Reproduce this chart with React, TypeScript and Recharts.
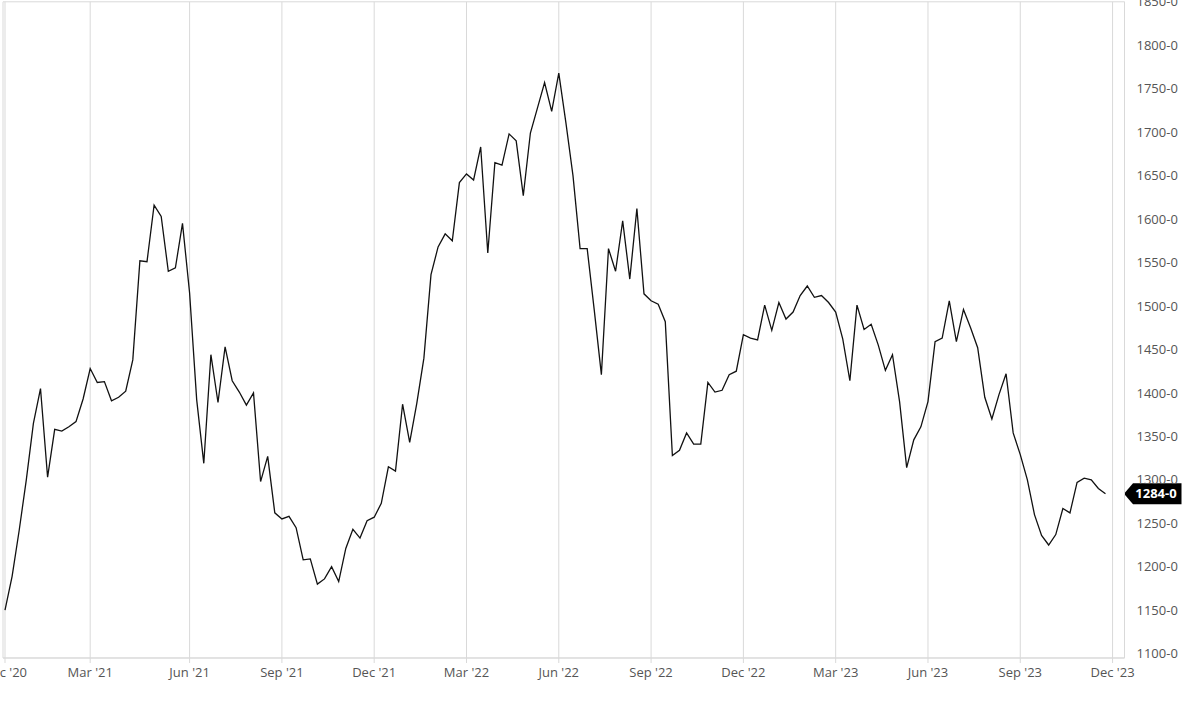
import { LineChart, Line, XAxis, YAxis, CartesianGrid, ReferenceLine } from 'recharts';

// weekly closes, Dec '20 .. Nov '23
const prices = [
  1150, 1189, 1242, 1300, 1365, 1405, 1303, 1358, 1356, 1361, 1367, 1393, 1428, 1412, 1413, 1391,
  1395, 1402, 1438, 1552, 1551, 1616, 1603, 1540, 1544, 1595, 1515, 1392, 1319, 1444, 1389, 1453,
  1414, 1401, 1386, 1400, 1298, 1327, 1262, 1255, 1258, 1245, 1208, 1209, 1180, 1186, 1200, 1183,
  1221, 1243, 1233, 1253, 1257, 1273, 1315, 1310, 1387, 1343, 1388, 1440, 1536, 1568, 1583, 1575,
  1642, 1652, 1645, 1683, 1561, 1665, 1662, 1698, 1690, 1627, 1699, 1728, 1757, 1724, 1768, 1711,
  1650, 1566, 1566, 1495, 1421, 1566, 1540, 1598, 1531, 1612, 1514, 1506, 1502, 1482, 1328, 1334,
  1354, 1341, 1341, 1412, 1401, 1403, 1421, 1425, 1467, 1463, 1461, 1501, 1472, 1504, 1485, 1493,
  1512, 1523, 1510, 1512, 1504, 1493, 1462, 1414, 1501, 1473, 1479, 1455, 1426, 1444, 1390, 1314,
  1346, 1361, 1390, 1459, 1463, 1506, 1459, 1496, 1475, 1452, 1395, 1370, 1398, 1422, 1354, 1329,
  1300, 1260, 1236, 1225, 1237, 1267, 1262, 1297, 1302, 1300, 1290, 1284,
];

// week index where each month label sits
const tickWeeks = [0, 12, 26, 39, 52, 65, 78, 91, 104, 117, 130, 143, 156];
const tickLabels = [
  "Dec '20", "Mar '21", "Jun '21", "Sep '21", "Dec '21", "Mar '22", "Jun '22",
  "Sep '22", "Dec '22", "Mar '23", "Jun '23", "Sep '23", "Dec '23",
];
const priceTicks = [1100, 1150, 1200, 1250, 1300, 1350, 1400, 1450, 1500, 1550, 1600, 1650, 1700, 1750, 1800, 1850];

const data = prices.map((v, i) => ({ week: i, price: v }));
const last = prices[prices.length - 1];

const FONT = '"Open Sans", sans-serif';
const GRID = '#d9d9d9';

const LastTag = (props: any) => {
  const vb = props.viewBox || {};
  const right = vb.x != null && vb.width != null ? vb.x + vb.width : 1124.5;
  const cy = vb.y != null ? vb.y : 494;
  const tip = right - 0.5;
  const h = 10.5;
  const d = `M${tip},${cy} L${tip + 9},${cy - h} L${tip + 57.5},${cy - h} L${tip + 57.5},${cy + h} L${tip + 9},${cy + h} Z`;
  return (
    <g>
      <path d={d} fill="#000" />
      <text
        x={tip + 32}
        y={cy}
        dy="0.36em"
        textAnchor="middle"
        fill="#fff"
        fontFamily={FONT}
        fontWeight={700}
        fontSize={13}
      >
        {`${last}-0`}
      </text>
    </g>
  );
};

export default function App() {
  return (
    <div style={{ position: 'absolute', left: 0, top: 0, width: 1200, height: 704, background: '#fff' }}>
      <LineChart width={1200} height={704} data={data} margin={{ top: 1.8, right: 0, bottom: 16, left: 3 }}>
        <CartesianGrid stroke={GRID} strokeWidth={1} />
        <XAxis
          dataKey="week"
          type="number"
          domain={[-0.282, 157.68]}
          allowDataOverflow
          ticks={tickWeeks}
          interval={0}
          tickFormatter={(v: number) => tickLabels[tickWeeks.indexOf(v)] ?? ''}
          height={30}
          stroke={GRID}
          tickSize={5}
          tickMargin={5}
          tick={{ fill: '#555', fontSize: 13, fontFamily: FONT }}
        />
        <YAxis
          yAxisId="l"
          orientation="left"
          width={0}
          domain={[1095, 1850]}
          allowDataOverflow
          tick={false}
          tickLine={false}
          stroke={GRID}
        />
        <YAxis
          yAxisId="r"
          orientation="right"
          width={75.5}
          domain={[1095, 1850]}
          allowDataOverflow
          ticks={priceTicks}
          interval={0}
          tickFormatter={(v: number) => `${v}-0`}
          tickLine={false}
          tickSize={0}
          tickMargin={12}
          stroke={GRID}
          tick={{ fill: '#555', fontSize: 13, fontFamily: FONT, textAnchor: 'start' }}
        />
        <Line
          yAxisId="r"
          type="linear"
          dataKey="price"
          stroke="#111"
          strokeWidth={1.3}
          dot={false}
          activeDot={false}
          isAnimationActive={false}
        />
        <ReferenceLine yAxisId="r" y={last} stroke="none" label={(p: any) => <LastTag {...p} />} />
      </LineChart>
    </div>
  );
}
